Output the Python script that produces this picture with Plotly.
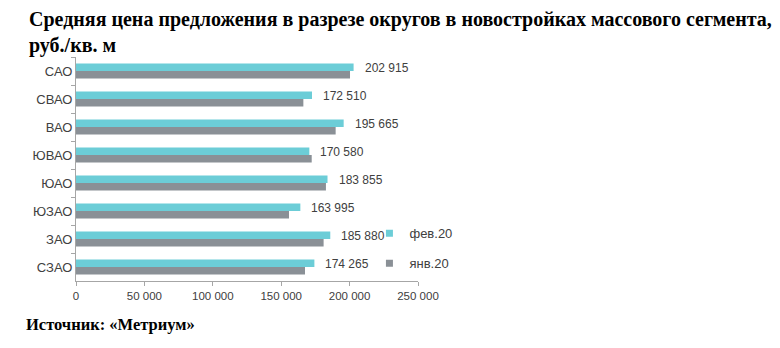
import plotly.graph_objects as go

# Moscow administrative districts, top to bottom
districts = ["САО", "СВАО", "ВАО", "ЮВАО", "ЮАО", "ЮЗАО", "ЗАО", "СЗАО"]
# Average asking price, rub per sq. m
feb_2020 = [202915, 172510, 195665, 170580, 183855, 163995, 185880, 174265]
jan_2020 = [200300, 166200, 189800, 172300, 182700, 155700, 181000, 167400]
x_ticks = [0, 50000, 100000, 150000, 200000, 250000]

CYAN = "#6CCDD7"
GREY = "#8A9096"
TEXT = "#404040"
SERIF = "Liberation Serif"

fig = go.Figure()
fig.add_trace(go.Bar(
    y=districts, x=feb_2020, orientation="h", name="фев.20",
    marker=dict(color=CYAN, line=dict(width=0)),
    showlegend=False,
))
fig.add_trace(go.Bar(
    y=districts, x=jan_2020, orientation="h", name="янв.20",
    marker=dict(color=GREY, line=dict(width=0)),
    showlegend=False,
))

# compact square legend keys
for name, color, grp in [("фев.20", CYAN, "a"), ("янв.20", GREY, "b")]:
    fig.add_trace(go.Scatter(
        x=[None], y=[None], mode="markers", name=name, legendgroup=grp,
        marker=dict(symbol="square", size=7, color=color),
    ))

# value labels next to the February bars
for d, v in zip(districts, feb_2020):
    fig.add_annotation(
        x=v, y=d, xref="x", yref="y",
        text=f"{v:,}".replace(",", " "),
        xanchor="left", yanchor="middle", xshift=9, yshift=3,
        showarrow=False,
        font=dict(family="Liberation Sans, Arial", size=12, color=TEXT),
    )

# plot area: x 76..418 px, y 57..281 px
L, R, T, B = 76, 418, 57, 281
W, H = R - L, B - T

fig.add_annotation(
    text="<b>Средняя цена предложения в разрезе округов в новостройках массового сегмента,<br>руб./кв. м</b>",
    xref="paper", yref="paper",
    x=(27 - L) / W, y=(B - 6) / H,
    xanchor="left", yanchor="top",
    showarrow=False, align="left",
    font=dict(family=SERIF, size=20, color="black"),
)
fig.add_annotation(
    text="<b>Источник: «Метриум»</b>",
    xref="paper", yref="paper",
    x=(24 - L) / W, y=(B - 324) / H,
    xanchor="left", yanchor="middle",
    showarrow=False, align="left",
    font=dict(family=SERIF, size=16.5, color="black"),
)

fig.update_layout(
    width=780, height=348,
    margin=dict(l=L, r=780 - R, t=T, b=348 - B),
    paper_bgcolor="white", plot_bgcolor="white",
    separators=", ",
    barmode="group", bargap=0.47, bargroupgap=0,
    font=dict(family="Liberation Sans, Arial", size=12, color=TEXT),
    showlegend=True,
    legend=dict(
        x=0.858, y=0.28, xanchor="left", yanchor="top",
        font=dict(size=13, color=TEXT), tracegroupgap=10,
        bgcolor="rgba(0,0,0,0)", itemwidth=30,
    ),
    xaxis=dict(
        range=[0, 250000], tickvals=x_ticks, tickformat=",d",
        showgrid=False, zeroline=False,
        showline=True, linecolor="#A6A6A6", linewidth=1,
        ticks="outside", ticklen=4, tickcolor="#A6A6A6",
        tickfont=dict(size=11.5, color=TEXT), fixedrange=True,
    ),
    yaxis=dict(
        autorange="reversed", showgrid=False,
        showline=True, linecolor="#A6A6A6", linewidth=1,
        ticks="outside", ticklen=4, tickcolor="#A6A6A6",
        tickson="boundaries",
        tickfont=dict(size=13, color=TEXT), fixedrange=True,
    ),
)

fig.write_html("out.html")
